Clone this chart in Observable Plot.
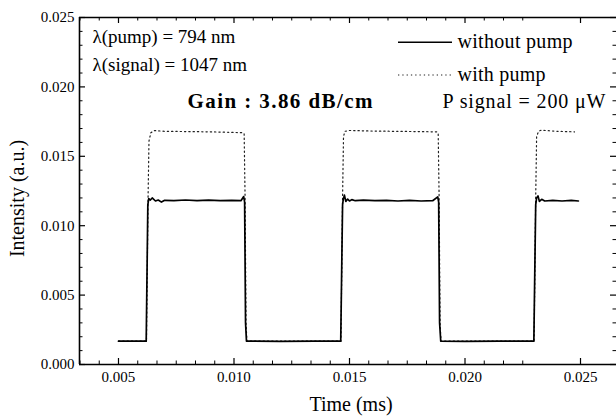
<!DOCTYPE html>
<html><head><meta charset="utf-8">
<script src="https://cdn.jsdelivr.net/npm/d3@7"></script>
<script src="https://cdn.jsdelivr.net/npm/@observablehq/plot@0.6"></script>
<style>
html,body{margin:0;padding:0;background:#fff;}
</style></head><body><div id="chart"></div>
<script>
// ---- data ----
const timeWithoutPump = [0.00500,0.00620,0.00627,0.00631,0.00638,0.00646,0.00660,0.00672,0.00686,0.00700,0.00740,0.00790,0.00840,0.00890,0.00940,0.00990,0.01030,0.01042,0.01046,0.01050,0.01054,
  0.01200,0.01350,0.01462,0.01470,0.01473,0.01478,0.01484,0.01492,0.01500,0.01510,0.01525,0.01560,0.01610,0.01660,0.01710,0.01760,0.01810,0.01860,0.01882,0.01886,0.01890,0.01895,
  0.02000,0.02150,0.02298,0.02306,0.02310,0.02316,0.02322,0.02332,0.02345,0.02380,0.02420,0.02460,0.02491];
const intensityWithoutPump = [0.00168,0.00168,0.01150,0.01195,0.01185,0.01200,0.01178,0.01185,0.01170,0.01183,0.01180,0.01185,0.01180,0.01184,0.01180,0.01183,0.01180,0.01210,0.01170,0.00300,0.00168,
  0.00167,0.00168,0.00168,0.01150,0.01190,0.01220,0.01175,0.01192,0.01178,0.01188,0.01180,0.01184,0.01180,0.01183,0.01178,0.01182,0.01178,0.01180,0.01208,0.01170,0.00300,0.00168,
  0.00167,0.00168,0.00168,0.01150,0.01200,0.01215,0.01175,0.01190,0.01178,0.01183,0.01178,0.01182,0.01178];
const timeWithPump = [0.00500,0.00621,0.00628,0.00632,0.00640,0.00655,0.00700,0.00800,0.00900,0.01000,0.01040,0.01044,0.01048,0.01052,0.01056,
  0.01463,0.01470,0.01474,0.01480,0.01500,0.01600,0.01700,0.01800,0.01879,0.01884,0.01888,0.01892,0.01896,
  0.02299,0.02306,0.02310,0.02318,0.02330,0.02400,0.02474];
const intensityWithPump = [0.00168,0.00168,0.01200,0.01610,0.01670,0.01685,0.01680,0.01678,0.01676,0.01672,0.01670,0.01660,0.01200,0.00300,0.00168,
  0.00168,0.01200,0.01640,0.01680,0.01686,0.01682,0.01680,0.01678,0.01676,0.01660,0.01200,0.00300,0.00168,
  0.00168,0.01200,0.01640,0.01680,0.01688,0.01680,0.01676];
const seriesLabels = ["without pump", "with pump"];
const xTickValues = [0.005, 0.010, 0.015, 0.020, 0.025];
const yTickValues = [0.000, 0.005, 0.010, 0.015, 0.020, 0.025];
const wavelengthLines = ["λ(pump) = 794 nm", "λ(signal) = 1047 nm"];
const gainLabel = "Gain : 3.86 dB/cm";
const powerLabel = "P signal = 200 μW";
const xAxisLabel = "Time (ms)";
const yAxisLabel = "Intensity (a.u.)";

// ---- tables ----
const withoutPump = timeWithoutPump.map((t, i) => ({t, v: intensityWithoutPump[i]}));
const withPump = timeWithPump.map((t, i) => ({t, v: intensityWithPump[i]}));
const xDomain = [0.003312, 0.026558];
const yDomain = [0, 0.025];
const xMinor = d3.range(-3, 22).map(k => 0.005 + k * 0.005 / 6).filter(v => v > xDomain[0] + 1e-6 && v < xDomain[1] && Math.abs(Math.round(v / 0.005) * 0.005 - v) > 1e-7);
const yMinor = d3.range(1, 25).map(k => k * 0.001).filter(v => Math.abs(Math.round(v / 0.005) * 0.005 - v) > 1e-7);

const W = 616, H = 418, ML = 79, MR = 0, MT = 17, MB = 54;
const FW = W - ML - MR, FH = H - MT - MB;
const serif = "Liberation Serif, Times New Roman, serif";
const DOT = "1.3,3";

const legendMark = (index, scales, values, dims) => {
  const g = d3.create("svg:g").attr("stroke", "#000").attr("fill", "none");
  const x0 = dims.marginLeft + 319, x1 = x0 + 54;
  g.append("line").attr("x1", x0).attr("x2", x1).attr("y1", dims.marginTop + 25.3).attr("y2", dims.marginTop + 25.3).attr("stroke-width", 1.4);
  g.append("line").attr("x1", x0).attr("x2", x1).attr("y1", dims.marginTop + 58).attr("y2", dims.marginTop + 58).attr("stroke-width", 1.2).attr("stroke-dasharray", DOT).attr("stroke", "#222");
  return g.node();
};

const txt = (s, o) => Plot.text([s], {text: d => d, frameAnchor: "top-left", textAnchor: "start", lineAnchor: "middle", fill: "#000", fontFamily: serif, ...o});

const chart = Plot.plot({
  width: W, height: H,
  marginLeft: ML, marginRight: MR, marginTop: MT, marginBottom: MB,
  style: {fontFamily: serif, fontSize: "15px", color: "#000", background: "#fff"},
  x: {domain: xDomain, axis: null},
  y: {domain: yDomain, axis: null},
  marks: [
    Plot.line(withPump, {x: "t", y: "v", stroke: "#222", strokeWidth: 1.2, strokeDasharray: DOT}),
    Plot.line(withoutPump, {x: "t", y: "v", stroke: "#000", strokeWidth: 1.7}),
    // frame (left, bottom, top)
    Plot.ruleY([yDomain[0]], {stroke: "#000", strokeWidth: 1.6}),
    Plot.ruleY([yDomain[1]], {stroke: "#000", strokeWidth: 1.6}),
    Plot.ruleX([xDomain[0]], {stroke: "#000", strokeWidth: 1.6}),
    // inward ticks
    Plot.tickX(xTickValues, {x: d => d, insetTop: FH - 6, stroke: "#000", strokeWidth: 1.2}),
    Plot.tickX(xTickValues, {x: d => d, insetBottom: FH - 6, stroke: "#000", strokeWidth: 1.2}),
    Plot.tickX(xMinor, {x: d => d, insetTop: FH - 3.5, stroke: "#000", strokeWidth: 1}),
    Plot.tickX(xMinor, {x: d => d, insetBottom: FH - 3.5, stroke: "#000", strokeWidth: 1}),
    Plot.tickY(yTickValues, {y: d => d, insetRight: FW - 6, stroke: "#000", strokeWidth: 1.2}),
    Plot.tickY(yTickValues, {y: d => d, insetLeft: FW - 6, stroke: "#000", strokeWidth: 1.2}),
    Plot.tickY(yMinor, {y: d => d, insetRight: FW - 3.5, stroke: "#000", strokeWidth: 1}),
    Plot.tickY(yMinor, {y: d => d, insetLeft: FW - 3.5, stroke: "#000", strokeWidth: 1}),
    // tick labels
    Plot.axisX(xTickValues, {anchor: "bottom", tickSize: 0, tickPadding: 7, tickFormat: d3.format(".3f"), label: null, fontSize: 15, fill: "#000", fontFamily: serif}),
    Plot.axisY(yTickValues, {anchor: "left", tickSize: 0, tickPadding: 5, tickFormat: d3.format(".3f"), label: null, fontSize: 15, fill: "#000", fontFamily: serif}),
    // axis titles
    Plot.text([xAxisLabel], {text: d => d, frameAnchor: "bottom", dx: 3, dy: 39.6, textAnchor: "middle", lineAnchor: "middle", fontSize: 20, fill: "#000", fontFamily: serif}),
    Plot.text([yAxisLabel], {text: d => d, frameAnchor: "left", dx: -62, dy: 7.5, rotate: -90, textAnchor: "middle", lineAnchor: "middle", fontSize: 20, fill: "#000", fontFamily: serif}),
    // annotations
    txt(wavelengthLines[0], {dx: 13, dy: 19.9, fontSize: 19}),
    txt(wavelengthLines[1], {dx: 13, dy: 47.4, fontSize: 19}),
    txt(gainLabel, {dx: 108, dy: 83.3, fontSize: 21, fontWeight: "bold"}),
    txt(seriesLabels[0], {dx: 378, dy: 24.5, fontSize: 20}),
    txt(seriesLabels[1], {dx: 378, dy: 56.6, fontSize: 20}),
    txt(powerLabel, {dx: 363, dy: 83.6, fontSize: 20}),
    legendMark
  ]
});
// stretch annotation texts to the widths they occupy in the reference
const targetWidths = new Map([[gainLabel, 185], [seriesLabels[0], 115], [seriesLabels[1], 88], [powerLabel, 163]]);
d3.select(chart).selectAll("text").each(function() {
  const s = this.textContent;
  if (targetWidths.has(s)) d3.select(this).attr("textLength", targetWidths.get(s)).attr("lengthAdjust", "spacing");
});
document.getElementById("chart").append(chart);
</script>
</body></html>
